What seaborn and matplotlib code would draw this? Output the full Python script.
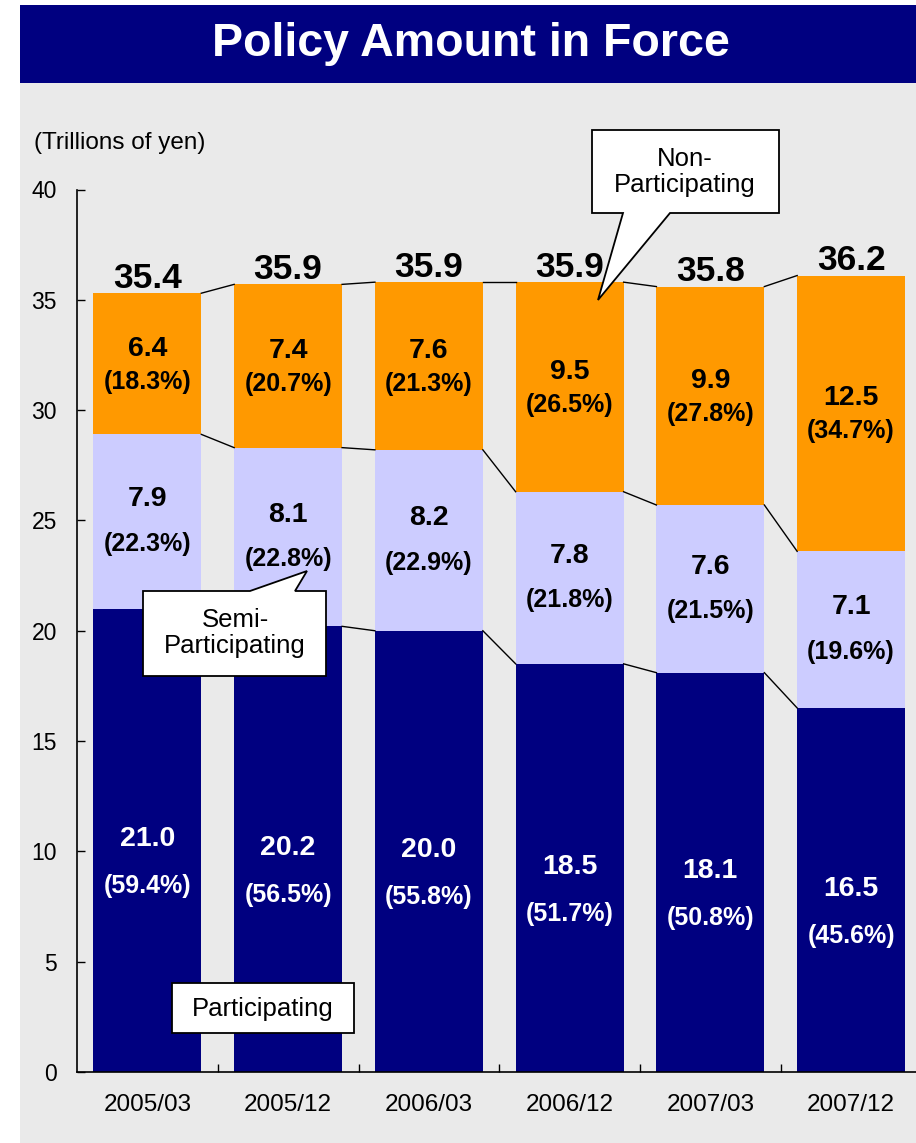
import numpy as np
import pandas as pd
import matplotlib
matplotlib.use("Agg")
import matplotlib.pyplot as plt
import seaborn as sns
from matplotlib.patches import Polygon, Rectangle

periods = ["2005/03", "2005/12", "2006/03", "2006/12", "2007/03", "2007/12"]
participating = [21.0, 20.2, 20.0, 18.5, 18.1, 16.5]
semi = [7.9, 8.1, 8.2, 7.8, 7.6, 7.1]
non = [6.4, 7.4, 7.6, 9.5, 9.9, 12.5]
totals = [35.4, 35.9, 35.9, 35.9, 35.8, 36.2]
part_pct = [59.4, 56.5, 55.8, 51.7, 50.8, 45.6]
semi_pct = [22.3, 22.8, 22.9, 21.8, 21.5, 19.6]
non_pct = [18.3, 20.7, 21.3, 26.5, 27.8, 34.7]

NAVY = "#000080"
LAV = "#CCCCFF"
ORANGE = "#FF9900"
BG = "#EAEAEA"

plt.rcParams['font.family'] = ['Liberation Sans', 'DejaVu Sans']

W, H = 916, 1143
fig = plt.figure(figsize=(W / 100, H / 100), dpi=100)
fig.patch.set_facecolor('white')


def fx(px):
    return px / W


def fy(py):
    return 1 - py / H


# background panel and title bar
fig.patches.append(Rectangle((fx(20), 0), 1 - fx(20), fy(83), transform=fig.transFigure,
                             fc=BG, ec='none', zorder=-2))
fig.patches.append(Rectangle((fx(20), fy(83)), 1 - fx(20), (83 - 5) / H, transform=fig.transFigure,
                             fc=NAVY, ec='none', zorder=-2))
fig.text(fx(471), fy(44), "Policy Amount in Force", color='white', fontsize=33.5,
         fontweight='bold', ha='center', va='center')
fig.text(fx(34), fy(143), "(Trillions of yen)", fontsize=17.5, ha='left', va='center')

ax = fig.add_axes([fx(77), 1 - 1072 / H, 844.5 / W, (1072 - 189.5) / H])
ax.set_facecolor('none')

cum1 = np.array(participating)
cum2 = cum1 + np.array(semi)
cum3 = cum2 + np.array(non)
df = pd.DataFrame({"period": periods, "cum1": cum1, "cum2": cum2, "cum3": cum3})

BW = 0.767
for col, colr in [("cum3", ORANGE), ("cum2", LAV), ("cum1", NAVY)]:
    sns.barplot(data=df, x="period", y=col, color=colr, saturation=1, width=BW,
                linewidth=0, errorbar=None, ax=ax, zorder=2)

# connector lines
for i in range(len(periods) - 1):
    for lev in (cum1, cum2, cum3):
        ax.plot([i + BW / 2, i + 1 - BW / 2], [lev[i], lev[i + 1]], color='black', lw=1, zorder=3)

VAL_FS = 20.5
PCT_FS = 18
# labels
for i in range(len(periods)):
    c = cum1[i] / 2
    ax.annotate(f"{participating[i]:.1f}", (i, c), xytext=(0, 1), textcoords='offset points',
                ha='center', va='center', color='white', fontsize=VAL_FS, fontweight='bold')
    ax.annotate(f"({part_pct[i]:.1f}%)", (i, c), xytext=(0, -33), textcoords='offset points',
                ha='center', va='center', color='white', fontsize=PCT_FS, fontweight='bold')
    c = (cum1[i] + cum2[i]) / 2
    ax.annotate(f"{semi[i]:.1f}", (i, c), xytext=(0, 16), textcoords='offset points',
                ha='center', va='center', color='black', fontsize=VAL_FS, fontweight='bold')
    ax.annotate(f"({semi_pct[i]:.1f}%)", (i, c), xytext=(0, -16), textcoords='offset points',
                ha='center', va='center', color='black', fontsize=PCT_FS, fontweight='bold')
    c = (cum2[i] + cum3[i]) / 2
    ax.annotate(f"{non[i]:.1f}", (i, c), xytext=(0, 11), textcoords='offset points',
                ha='center', va='center', color='black', fontsize=VAL_FS, fontweight='bold')
    ax.annotate(f"({non_pct[i]:.1f}%)", (i, c), xytext=(0, -13), textcoords='offset points',
                ha='center', va='center', color='black', fontsize=PCT_FS, fontweight='bold')
    ax.annotate(f"{totals[i]:.1f}", (i, cum3[i]), xytext=(0, 4), textcoords='offset points',
                ha='center', va='baseline', color='black', fontsize=25.5, fontweight='bold')

ax.set_xlim(-0.5, 5.5)
ax.set_ylim(0, 40)
ax.set_yticks(range(0, 41, 5))
ax.set_xlabel("")
ax.set_ylabel("")
ax.tick_params(axis='y', direction='in', length=5.5, width=1, labelsize=16.5, pad=14.5)
ax.tick_params(axis='x', which='major', length=0, labelsize=17.5, pad=16)
ax.set_xticks(np.arange(0.5, 5.5, 1), minor=True)
ax.tick_params(axis='x', which='minor', direction='in', length=5.5, width=1)
for s in ("top", "right"):
    ax.spines[s].set_visible(False)
for s in ("left", "bottom"):
    ax.spines[s].set_color('black')
    ax.spines[s].set_linewidth(1.2)


# callouts (pixel outline coordinates, top-left origin)
def callout(pts, text, cx, cy):
    poly = Polygon([(fx(x), fy(y)) for x, y in pts], closed=True, transform=fig.transFigure,
                   fc='white', ec='black', lw=1.3, zorder=5)
    fig.patches.append(poly)
    fig.text(fx(cx), fy(cy), text, ha='center', va='center', fontsize=18.5,
             linespacing=1.15, zorder=6)


callout([(592, 130), (779, 130), (779, 213), (670, 213), (598, 300), (623, 213), (592, 213)],
        "Non-\nParticipating", 685, 172)
callout([(143, 591), (250, 591), (307, 571), (295, 591), (326, 591), (326, 676), (143, 676)],
        "Semi-\nParticipating", 235, 633)
callout([(172, 983), (354, 983), (354, 1033), (172, 1033)], "Participating", 263, 1009)

fig.savefig("out.png", dpi=100)
